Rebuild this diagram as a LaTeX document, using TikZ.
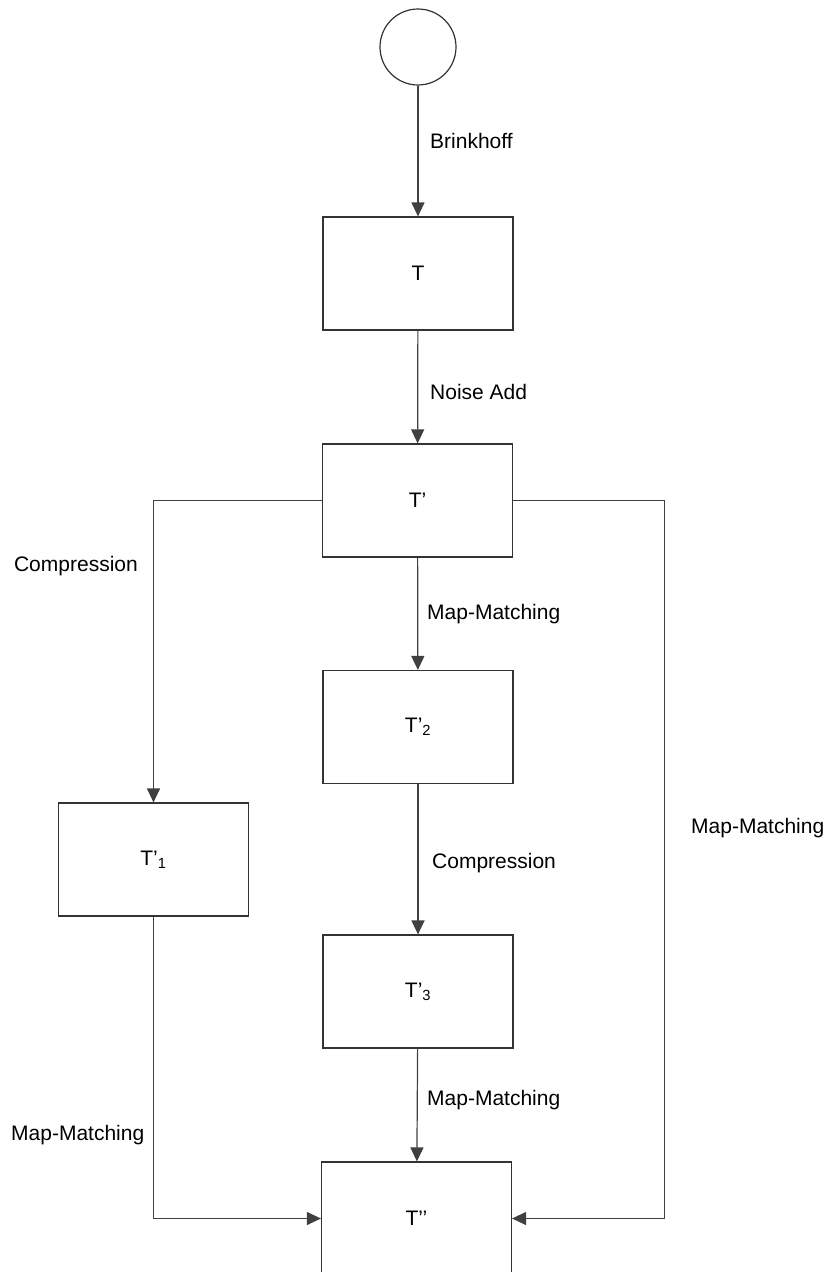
\documentclass[tikz,border=0pt]{standalone}
\usepackage{fontspec}
\setmainfont{Liberation Sans}
\usetikzlibrary{arrows.meta}
\begin{document}
\begin{tikzpicture}[x=1pt,y=-1pt,
  box/.style={draw=black!80, line width=1.2pt, fill=white, minimum width=190pt, minimum height=113pt, inner sep=0pt, font=\fontsize{21}{25}\selectfont},
  conn/.style={draw=black!75, line width=1.2pt, -{Triangle[length=14pt,width=13pt]}},
  lbl/.style={font=\fontsize{21}{25}\selectfont, fill=white, inner sep=1pt}]
\useasboundingbox (0,0) rectangle (829,1272);
\fill[white] (0,0) rectangle (829,1272);
\node[circle, draw=black!80, line width=1.2pt, minimum size=76pt, inner sep=0pt] (s) at (418,47) {};
\node[box] (t) at (418,273.5) {T};
\node[box] (tp) at (417.5,500.5) {T’};
\node[box] (t2) at (418,727) {T’\textsubscript{2}};
\node[box] (t1) at (153.5,859.5) {T’\textsubscript{1}};
\node[box] (t3) at (418,991.5) {T’\textsubscript{3}};
\node[box] (tpp) at (416.5,1218.5) {T’’};
\draw[conn] (s) -- (t);
\draw[conn] (t) -- (tp);
\draw[conn] (tp) -- (t2);
\draw[conn] (t2) -- (t3);
\draw[conn] (t3) -- (tpp);
\draw[conn] (tp.west) -| (t1.north);
\draw[conn] (tp.east) -- ++(151,0) |- (tpp.east);
\draw[conn] (t1.south) |- (tpp.west);
\node[lbl, anchor=west] (l1) at (429,141) {Brinkhoff};
\node[lbl, anchor=west] (l2) at (429,392) {Noise Add};
\node[lbl, anchor=west] (l3) at (426,614) {Map-Matching};
\node[lbl, anchor=west] (l4) at (431,863) {Compression};
\node[lbl, anchor=west] (l5) at (426,1100) {Map-Matching};
\node[lbl, anchor=east] (l6) at (139,566) {Compression};
\node[lbl, anchor=west] (l7) at (10,1135) {Map-Matching};
\node[lbl, anchor=west] (l8) at (690,828) {Map-Matching};
\end{tikzpicture}
\end{document}
